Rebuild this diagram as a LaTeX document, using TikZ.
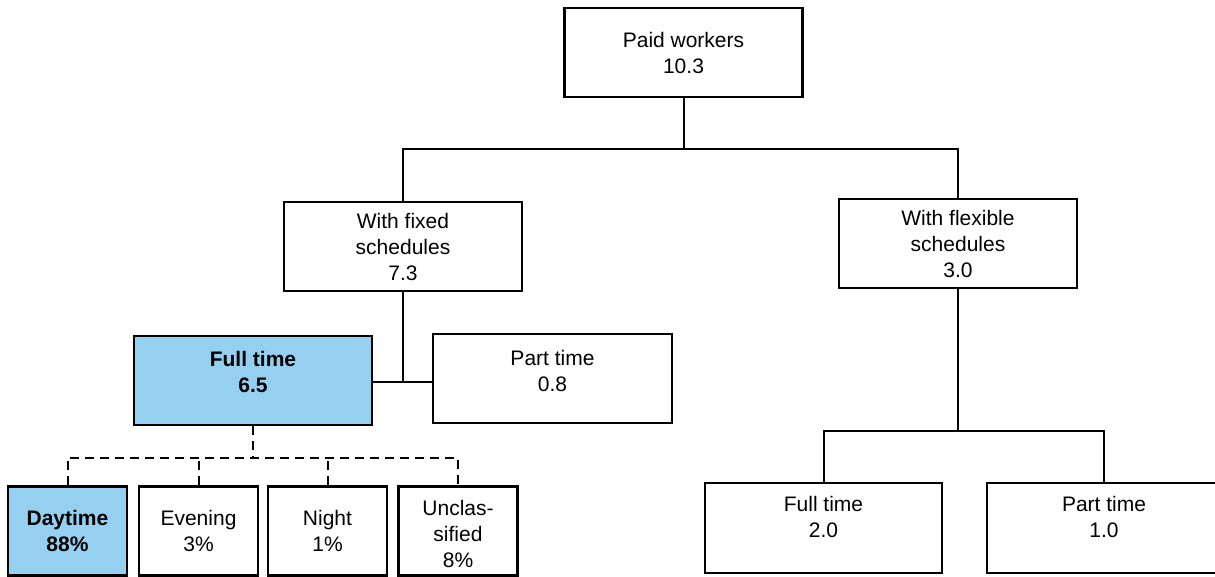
\documentclass[tikz,border=0pt]{standalone}
\usepackage{fontspec}
\setmainfont{Liberation Sans}
\definecolor{ltblue}{RGB}{150,208,240}
\begin{document}
\begin{tikzpicture}[x=1pt,y=-1pt,
  box/.style={draw=black, line width=2.2pt, fill=white, inner sep=0pt, align=center,
    font=\fontsize{21}{26}\selectfont},
  bigbox/.style={box, minimum width=238pt, minimum height=89pt},
  smallbox/.style={box, minimum width=119pt, minimum height=89pt},
  hl/.style={fill=ltblue},
  txt/.style={inner sep=0pt, align=center, font=\fontsize{21}{26}\selectfont},
  conn/.style={draw=black, line width=2pt},
  dconn/.style={draw=black, line width=2pt, dash pattern=on 9pt off 6pt}
]
\fill[white] (0,0) rectangle (1215,576);
\useasboundingbox (0,0) rectangle (1215,576);

% boxes
\node[bigbox] (paid) at (683.5,52.5) {Paid workers\\10.3};
\node[bigbox] (fixed) at (403,246.5) {With fixed\\schedules\\7.3};
\node[bigbox] (flex) at (958,243.5) {With flexible\\schedules\\3.0};

\node[bigbox, hl] (ft) at (253,380.5) {};
\node[txt, font=\fontsize{21}{26}\selectfont\bfseries] (ftT) at ([yshift=9pt]ft.center) {Full time\\6.5};
\node[bigbox, minimum width=239pt] (pt) at (552.5,378.5) {};
\node[txt] (ptT) at ([yshift=8pt]pt.center) {Part time\\0.8};

\node[smallbox, hl, font=\fontsize{21}{26}\selectfont\bfseries] (day) at (67.5,531) {Daytime\\88\%};
\node[smallbox] (eve) at (198.5,531) {Evening\\3\%};
\node[smallbox] (night) at (327.5,531) {Night\\1\%};
\node[smallbox] (uncl) at (458,531) {};
\node[txt] (unclT) at ([yshift=-3pt]uncl.center) {Unclas-\\sified\\8\%};

\node[bigbox, minimum width=237pt, minimum height=90pt] (ft2) at (823.5,528) {};
\node[txt] (ft2T) at ([yshift=11pt]ft2.center) {Full time\\2.0};
\node[bigbox, minimum width=234pt, minimum height=90pt] (pt2) at (1104,528) {};
\node[txt] (pt2T) at ([yshift=11pt]pt2.center) {Part time\\1.0};

% junctions
\coordinate (j1) at (683.5,149);
\coordinate (j2) at (403,382);
\coordinate (j3) at (253,458);
\coordinate (j4) at (958,431);

% connectors
\draw[conn] (paid.south) -- (j1);
\draw[conn] (fixed.north) -- (fixed.north |- j1) -- (flex.north |- j1) -- (flex.north);

\draw[conn] (fixed.south) -- (j2);
\draw[conn] (ft.east |- j2) -- (pt.west |- j2);

\draw[dconn] (ft.south) -- (j3);
\draw[dconn] (day.north) -- (day.north |- j3) -- (uncl.north |- j3) -- (uncl.north);
\draw[dconn] (eve.north) -- (eve.north |- j3);
\draw[dconn] (night.north) -- (night.north |- j3);

\draw[conn] (flex.south) -- (j4);
\draw[conn] (ft2.north) -- (ft2.north |- j4) -- (pt2.north |- j4) -- (pt2.north);
\end{tikzpicture}
\end{document}
